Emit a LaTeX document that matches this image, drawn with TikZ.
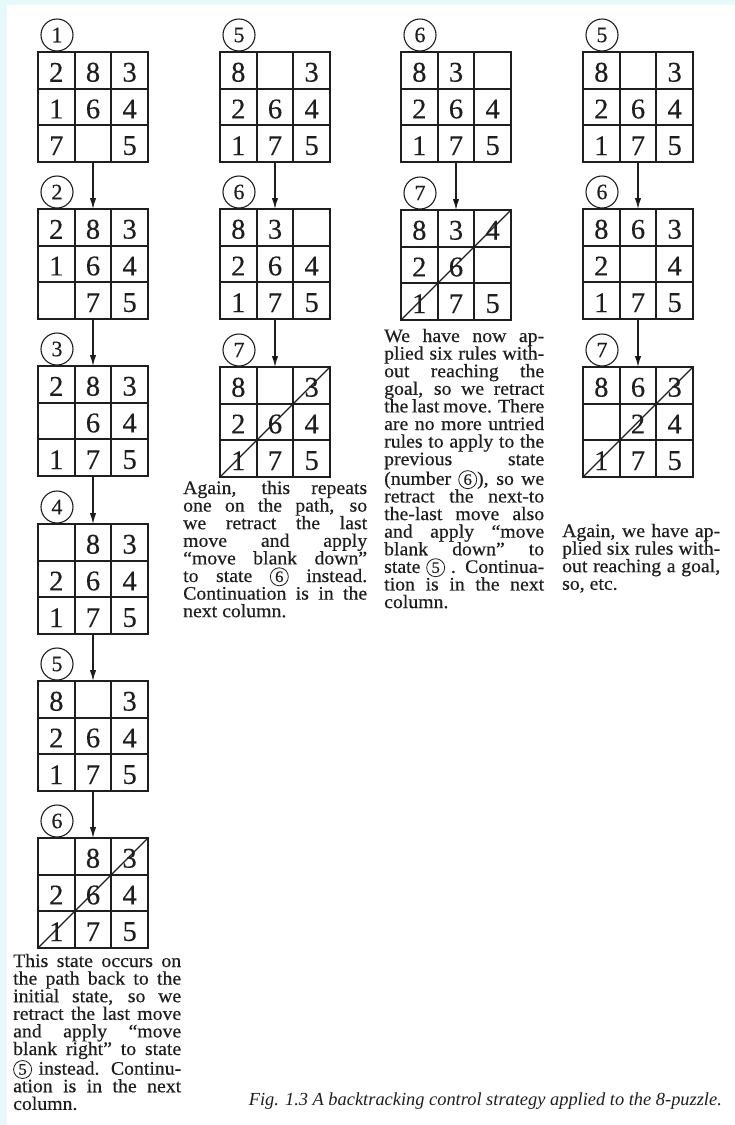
\documentclass[tikz,border=0pt]{standalone}
\usepackage{fontspec}
\setmainfont{Liberation Serif}
\newfontfamily\bk[FakeStretch=1.04,FakeBold=0.4]{Liberation Serif}
\newfontfamily\dg[FakeBold=0.3]{Liberation Serif}
\usetikzlibrary{arrows.meta,calc}
\definecolor{ink}{HTML}{1E1E1E}
\definecolor{scanbg}{HTML}{E6FAFB}
\newlength\colwd
\newcommand\jl[1]{\hbox to\colwd{#1}}
\newcommand\cnum[1]{\tikz[baseline=(cnn.base)]\node[circle,draw=ink,line width=0.8pt,inner sep=0pt,outer sep=0pt,minimum size=18pt,anchor=center,font=\bk\fontsize{16}{16}\selectfont](cnn){#1};}
\tikzset{
 gridbox/.style={draw=ink, line width=2.2pt, minimum size=110pt, inner sep=0pt, outer sep=0pt},
 inner/.style={draw=ink, line width=1.8pt},
 digit/.style={font=\dg\fontsize{28.5}{28.5}\selectfont, text=ink, inner sep=0pt},
 statelbl/.style={circle, draw=ink, line width=1.1pt, minimum size=32pt, inner sep=0pt, font=\dg\fontsize{22}{22}\selectfont, text=ink},
 slash/.style={draw=ink, line width=1.2pt},
 move/.style={draw=ink, line width=1.4pt, -{Latex[length=11pt,width=6.5pt]}},
 txt/.style={inner sep=0pt, anchor=base west, font=\bk\fontsize{19}{17.6}\selectfont, text=ink},
}
% #1 name, #2 left x, #3 top y, #4 nine entries (0 = blank)
\newcommand\pz[4]{%
 \node[gridbox] (#1) at ({#2+55},{#3+55}) {};
 \foreach \k in {1,2}{%
  \draw[inner] ($(#1.north west)!\k/3!(#1.north east)$) -- ($(#1.south west)!\k/3!(#1.south east)$);
  \draw[inner] ($(#1.north west)!\k/3!(#1.south west)$) -- ($(#1.north east)!\k/3!(#1.south east)$);
 }%
 \foreach \d [count=\i from 0] in {#4}{%
  \pgfmathtruncatemacro\rr{\i/3}%
  \pgfmathtruncatemacro\cc{mod(\i,3)}%
  \ifnum\d>0 \node[digit] (#1-\i) at ({#2+\cc*110/3+55/3},{#3+\rr*110/3+55/3+2}) {\d};\fi
 }%
}
\newcommand\lbl[4]{\node[statelbl] (#1) at ({#2+19},{#3-17}) {#4};}
\begin{document}
\begin{tikzpicture}[x=1pt,y=-1pt]
\useasboundingbox (0,0) rectangle (735,1125);
\fill[scanbg] (0,0) rectangle (735,1125);
\fill[white] (7,5) rectangle (735,1125);

% ---------- column 1 ----------
\pz{a1}{38}{52}{2,8,3,1,6,4,7,0,5}   \lbl{la1}{38}{52}{1}
\pz{a2}{38}{209}{2,8,3,1,6,4,0,7,5}  \lbl{la2}{38}{209}{2}
\pz{a3}{38}{366}{2,8,3,0,6,4,1,7,5}  \lbl{la3}{38}{366}{3}
\pz{a4}{38}{524}{0,8,3,2,6,4,1,7,5}  \lbl{la4}{38}{524}{4}
\pz{a5}{38}{681}{8,0,3,2,6,4,1,7,5}  \lbl{la5}{38}{681}{5}
\pz{a6}{38}{838}{0,8,3,2,6,4,1,7,5}  \lbl{la6}{38}{838}{6}
\draw[slash] (a6.south west) -- (a6.north east);
\foreach \p/\q in {a1/a2,a2/a3,a3/a4,a4/a5,a5/a6} \draw[move] (\p.south) -- (\q.north);

\node[txt] (ta) at (13,967) {\colwd=168pt\vtop{%
\jl{This state occurs on}
\jl{the path back to the}
\jl{initial state, so we}
\jl{retract the last move}
\jl{and apply “move}
\jl{blank right” to state}
\jl{\cnum{5} instead. Continu-}
\jl{ation is in the next}
\hbox{column.}}};

% ---------- column 2 ----------
\pz{b1}{220}{52}{8,0,3,2,6,4,1,7,5}  \lbl{lb1}{220}{52}{5}
\pz{b2}{220}{209}{8,3,0,2,6,4,1,7,5} \lbl{lb2}{220}{209}{6}
\pz{b3}{220}{367}{8,0,3,2,6,4,1,7,5} \lbl{lb3}{220}{367}{7}
\draw[slash] (b3.south west) -- (b3.north east);
\foreach \p/\q in {b1/b2,b2/b3} \draw[move] (\p.south) -- (\q.north);

\node[txt] (tb) at (183,494) {\colwd=184pt\vtop{%
\jl{Again, this repeats}
\jl{one on the path, so}
\jl{we retract the last}
\jl{move and apply}
\jl{“move blank down”}
\jl{to state \cnum{6} instead.}
\jl{Continuation is in the}
\hbox{next column.}}};

% ---------- column 3 ----------
\pz{c1}{401}{52}{8,3,0,2,6,4,1,7,5}  \lbl{lc1}{401}{52}{6}
\pz{c2}{401}{210}{8,3,4,2,6,0,1,7,5} \lbl{lc2}{401}{210}{7}
\draw[slash] (c2.south west) -- (c2.north east);
\draw[move] (c1.south) -- (c2.north);

\node[txt] (tc) at (384,342) {\colwd=160pt\vtop{%
\jl{We have now ap-}
\jl{plied six rules with-}
\jl{out reaching the}
\jl{goal, so we retract}
\jl{the last move. There}
\jl{are no more untried}
\jl{rules to apply to the}
\jl{previous state}
\jl{(number \cnum{6}), so we}
\jl{retract the next-to}
\jl{the-last move also}
\jl{and apply “move}
\jl{blank down” to}
\jl{state \cnum{5} . Continua-}
\jl{tion is in the next}
\hbox{column.}}};

% ---------- column 4 ----------
\pz{d1}{583}{52}{8,0,3,2,6,4,1,7,5}  \lbl{ld1}{583}{52}{5}
\pz{d2}{583}{209}{8,6,3,2,0,4,1,7,5} \lbl{ld2}{583}{209}{6}
\pz{d3}{583}{367}{8,6,3,0,2,4,1,7,5} \lbl{ld3}{583}{367}{7}
\draw[slash] (d3.south west) -- (d3.north east);
\foreach \p/\q in {d1/d2,d2/d3} \draw[move] (\p.south) -- (\q.north);

\node[txt] (td) at (562,537) {\colwd=158pt\vtop{%
\jl{Again, we have ap-}
\jl{plied six rules with-}
\jl{out reaching a goal,}
\hbox{so, etc.}}};

% ---------- caption ----------
\node[txt, anchor=base east, font=\itshape\fontsize{18.4}{18.4}\selectfont] (cap) at (722,1105)
 {Fig. 1.3 A backtracking control strategy applied to the 8-puzzle.};
\end{tikzpicture}
\end{document}
